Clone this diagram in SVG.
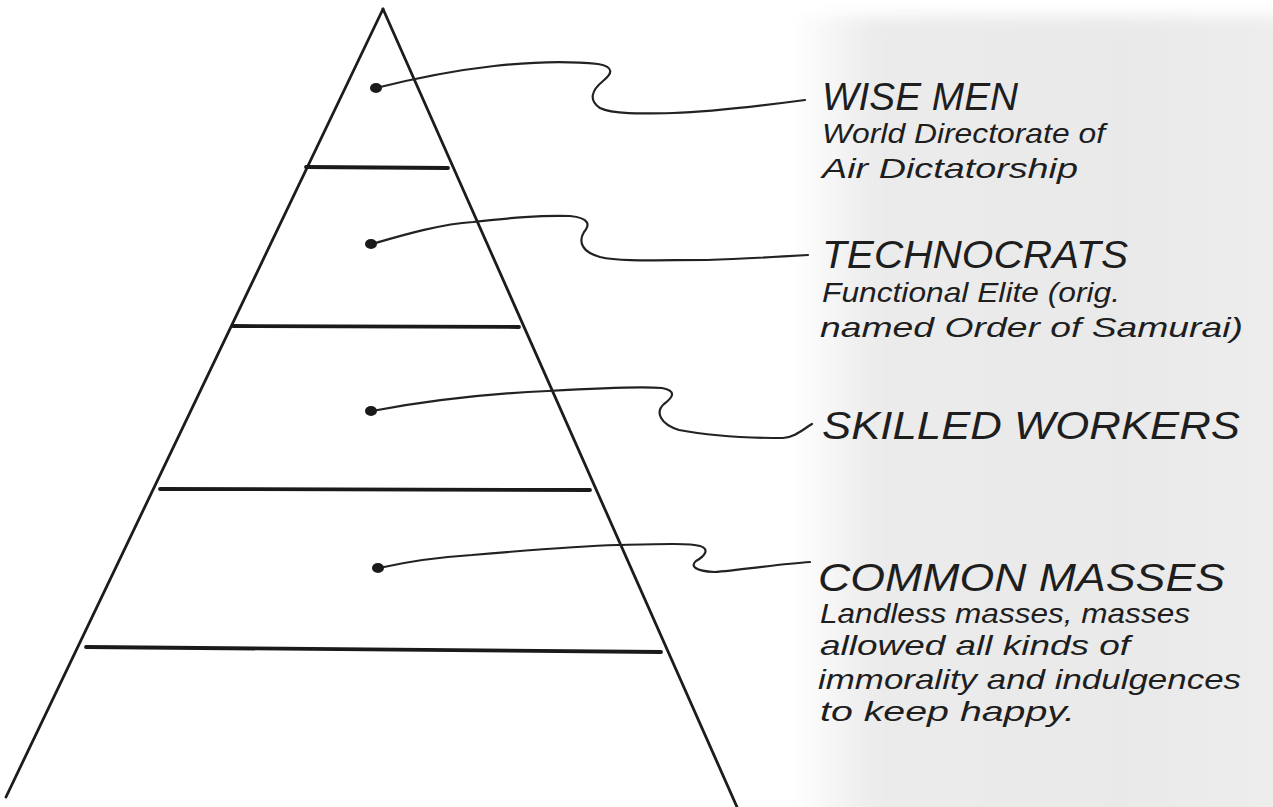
<svg xmlns="http://www.w3.org/2000/svg" width="1273" height="807" viewBox="0 0 1273 807">
<defs>
<linearGradient id="bg" x1="0" y1="0" x2="1" y2="0">
<stop offset="0" stop-color="#ffffff"/>
<stop offset="0.6" stop-color="#ffffff"/>
<stop offset="0.665" stop-color="#ebebeb"/>
<stop offset="0.85" stop-color="#e9e9e9"/>
<stop offset="1" stop-color="#eeeeee"/>
</linearGradient>
<filter id="soft" x="-0.1" y="-0.1" width="1.2" height="1.2"><feGaussianBlur stdDeviation="8"/></filter>
</defs>
<style>
.edge{stroke:#1c1c1c;stroke-width:2.8;fill:none;stroke-linecap:round}
.tier{stroke:#1a1a1a;stroke-width:3.8;fill:none;stroke-linecap:round}
.conn{stroke:#222;stroke-width:2.2;fill:none;stroke-linecap:round;stroke-linejoin:round}
.dot{fill:#1a1a1a}
.title{font-family:"Liberation Sans","DejaVu Sans",sans-serif;font-style:italic;font-size:38px;fill:#1e1e1e}
.sub{font-family:"Liberation Sans","DejaVu Sans",sans-serif;font-style:italic;font-size:28px;fill:#1e1e1e}
</style>
<rect width="1273" height="807" fill="#ffffff"/>
<rect x="0" y="16" width="1320" height="820" fill="url(#bg)" filter="url(#soft)"/>

<g id="pyramid">
<path class="edge" d="M383 9 L6 797"/>
<path class="edge" d="M383 9 L737 807"/>
<path class="tier" d="M306 167 L448 168"/>
<path class="tier" d="M233 326 L519 327"/>
<path class="tier" d="M160 489 L590 490"/>
<path class="tier" d="M86 647 L661 652"/>
</g>

<g id="connectors">
<path class="conn" d="M376 88 C400 82 440 72 494 66 C530 62 570 61 598 64 C615 67 612 74 603 81 C592 90 588 100 600 108 C612 114 640 114 673 113 C710 112 760 106 805 100"/>
<path class="conn" d="M372 244 C400 236 440 224 473 222 C510 218 540 215 570 216 C590 218 590 225 584 232 C578 242 582 252 600 257 C620 262 660 260 707 260 C740 259 775 257 808 255"/>
<path class="conn" d="M372 411 C420 402 480 394 548 391 C600 388 640 386 662 388 C678 391 672 398 664 404 C655 412 660 424 679 430 C710 436 750 438 783 438 C795 437 802 430 812 424"/>
<path class="conn" d="M379 568 C410 561 440 557 472 555 C530 550 580 546 617 545 C660 544 690 543 700 546 C710 549 705 556 696 561 C690 566 695 571 714 572 C740 570 780 564 810 562"/>
</g>

<g id="wise-men">
<ellipse class="dot" cx="376" cy="88" rx="6" ry="5"/>
<text class="title" x="822" y="110" textLength="196" lengthAdjust="spacingAndGlyphs">WISE MEN</text>
<text class="sub" x="822" y="143" textLength="283" lengthAdjust="spacingAndGlyphs">World Directorate of</text>
<text class="sub" x="822" y="178" textLength="256" lengthAdjust="spacingAndGlyphs">Air Dictatorship</text>
</g>

<g id="technocrats">
<ellipse class="dot" cx="371" cy="244" rx="6" ry="5"/>
<text class="title" x="822" y="268" textLength="306" lengthAdjust="spacingAndGlyphs">TECHNOCRATS</text>
<text class="sub" x="822" y="302" textLength="298" lengthAdjust="spacingAndGlyphs">Functional Elite (orig.</text>
<text class="sub" x="820" y="337" textLength="423" lengthAdjust="spacingAndGlyphs">named Order of Samurai)</text>
</g>

<g id="skilled-workers">
<ellipse class="dot" cx="371" cy="411" rx="6" ry="5"/>
<text class="title" x="822" y="439" textLength="418" lengthAdjust="spacingAndGlyphs">SKILLED WORKERS</text>
</g>

<g id="common-masses">
<ellipse class="dot" cx="378" cy="568" rx="6" ry="5"/>
<text class="title" x="818" y="591" textLength="407" lengthAdjust="spacingAndGlyphs">COMMON MASSES</text>
<text class="sub" x="820" y="623" textLength="370" lengthAdjust="spacingAndGlyphs">Landless masses, masses</text>
<text class="sub" x="820" y="655" textLength="310" lengthAdjust="spacingAndGlyphs">allowed all kinds of</text>
<text class="sub" x="818" y="689" textLength="423" lengthAdjust="spacingAndGlyphs">immorality and indulgences</text>
<text class="sub" x="820" y="721" textLength="255" lengthAdjust="spacingAndGlyphs">to keep happy.</text>
</g>
</svg>
